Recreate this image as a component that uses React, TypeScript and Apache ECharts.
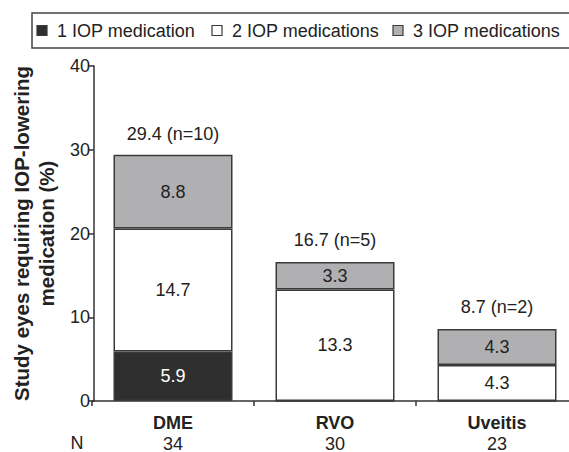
import React, { useEffect, useRef } from "react";
import * as echarts from "echarts";

const categories = ["DME", "RVO", "Uveitis"];
const nValues = ["34", "30", "23"];
const oneMed = [5.9, 0, 0];
const twoMeds = [14.7, 13.3, 4.3];
const threeMeds = [8.8, 3.3, 4.3];
const totals = [29.4, 16.7, 8.7];
const totalN = [10, 5, 2];
const seriesNames = ["1 IOP medication", "2 IOP medications", "3 IOP medications"];
const seriesColors = ["#2f2f2f", "#ffffff", "#b0b0b2"];
const yTicks = { min: 0, max: 40, interval: 10 };

const FONT = "'Liberation Sans', Arial, Helvetica, sans-serif";
const BORDER = "#3a3a3a";

export default function App() {
  const ref = useRef<HTMLDivElement>(null);

  useEffect(() => {
    if (!ref.current) return;
    const chart = echarts.init(ref.current, undefined, { renderer: "svg" });

    const barLabel = (color: string) => ({
      show: true,
      position: "inside" as const,
      color,
      fontSize: 18,
      fontFamily: FONT,
      formatter: (p: any) => (p.value ? Number(p.value).toFixed(1) : ""),
    });

    const makeBar = (i: number, data: number[], labelColor: string) => ({
      name: seriesNames[i],
      type: "bar",
      stack: "total",
      data,
      barWidth: 119,
      itemStyle: { color: seriesColors[i], borderColor: BORDER, borderWidth: 1.5 },
      label: barLabel(labelColor),
    });

    // hand-drawn legend (single row inside a bordered box running off the right edge)
    const legendSquaresX = [37, 212, 393];
    const legendGraphics: any[] = [
      {
        type: "rect",
        shape: { x: 32, y: 13, width: 560, height: 35 },
        style: { fill: "#fff", stroke: "#444", lineWidth: 1.5 },
        silent: true,
      },
    ];
    seriesNames.forEach((name, i) => {
      legendGraphics.push({
        type: "rect",
        shape: { x: legendSquaresX[i], y: 25.5, width: 10, height: 10 },
        style: { fill: seriesColors[i], stroke: BORDER, lineWidth: 1.2 },
        silent: true,
      });
      legendGraphics.push({
        type: "text",
        x: legendSquaresX[i] + 20,
        y: 31,
        style: {
          text: name,
          fontSize: 18,
          fill: "#222",
          fontFamily: FONT,
          verticalAlign: "middle",
          align: "left",
        },
        silent: true,
      });
    });

    chart.setOption({
      animation: false,
      textStyle: { fontFamily: FONT },
      grid: {
        left: 92,
        top: 66,
        width: 486,
        height: 335,
        containLabel: false,
        outerBoundsMode: "none",
      },
      xAxis: {
        type: "category",
        data: categories,
        axisLine: { lineStyle: { color: "#333", width: 1.5 } },
        axisTick: { show: true, length: 5, lineStyle: { color: "#333", width: 1.5 } },
        axisLabel: {
          margin: 11,
          formatter: (v: string, i: number) => `{a|${v}}\n{b|${nValues[i]}}`,
          rich: {
            a: { fontSize: 18, fontWeight: "bold", color: "#222", fontFamily: FONT, lineHeight: 21 },
            b: { fontSize: 18, color: "#222", fontFamily: FONT, lineHeight: 21 },
          },
        },
      },
      yAxis: {
        type: "value",
        min: yTicks.min,
        max: yTicks.max,
        interval: yTicks.interval,
        offset: -2,
        name: "Study eyes requiring IOP-lowering\nmedication (%)",
        nameLocation: "middle",
        nameRotate: 90,
        nameGap: 27,
        nameTextStyle: { fontSize: 20.5, fontWeight: "bold", color: "#222", fontFamily: FONT, lineHeight: 25 },
        axisLine: { show: true, lineStyle: { color: "#333", width: 1.5 } },
        axisTick: { show: true, length: 5, lineStyle: { color: "#333", width: 1.5 } },
        splitLine: { show: false },
        axisLabel: { fontSize: 18, color: "#222", fontFamily: FONT, margin: 4 },
      },
      graphic: [
        ...legendGraphics,
        {
          type: "text",
          x: 77,
          y: 443,
          style: {
            text: "N",
            fontSize: 18,
            fill: "#222",
            fontFamily: FONT,
            align: "center",
            verticalAlign: "middle",
          },
        },
      ],
      series: [
        makeBar(0, oneMed, "#ffffff"),
        makeBar(1, twoMeds, "#222"),
        makeBar(2, threeMeds, "#222"),
        {
          name: "totals",
          type: "scatter",
          data: totals,
          symbolSize: 0,
          silent: true,
          itemStyle: { opacity: 1 },
          label: {
            show: true,
            position: "top",
            distance: 12,
            fontSize: 18,
            color: "#222",
            opacity: 1,
            fontFamily: FONT,
            formatter: (p: any) => `${totals[p.dataIndex]} (n=${totalN[p.dataIndex]})`,
          },
        },
      ],
    });

    return () => chart.dispose();
  }, []);

  return (
    <div
      ref={ref}
      style={{ position: "absolute", left: 0, top: 0, width: 569, height: 452, background: "#fff" }}
    />
  );
}
